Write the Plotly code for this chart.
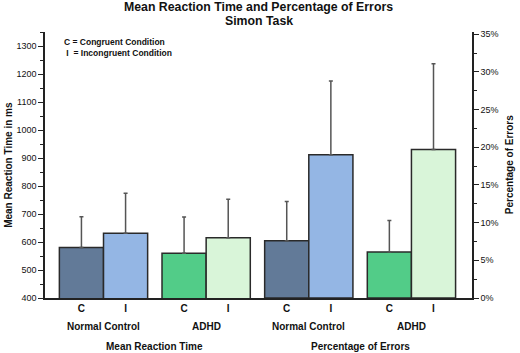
import plotly.graph_objects as go

# ---- data ----
title_lines = ["Mean Reaction Time and Percentage of Errors", "Simon Task"]
panels = ["Mean Reaction Time", "Percentage of Errors"]
groups = ["Normal Control", "ADHD"]
conditions = ["C", "I"]
# order: NC-C, NC-I, ADHD-C, ADHD-I
rt_mean = [580, 631, 560, 615]
rt_sd = [110, 143, 129, 138]
err_mean = [7.6, 19.0, 6.1, 19.7]
err_sd = [5.2, 9.8, 4.2, 11.4]
bar_colors = ["#627a98", "#94b6e4", "#52cc88", "#d9f5d9"]

rt_ticks = list(range(400, 1301, 100))
err_ticks = list(range(0, 36, 5))
err_ticktext = ["%d%%" % v for v in err_ticks]

FONT = "Liberation Sans, Arial, sans-serif"
W = 0.43

fig = go.Figure()
tickvals, ticktext = [], []
for p, (means, sds) in enumerate([(rt_mean, rt_sd), (err_mean, err_sd)]):
    for g in range(len(groups)):
        for c in range(len(conditions)):
            k = g * 2 + c
            xc = (2 * p + g) + (c - 0.5) * W
            tickvals.append(xc)
            ticktext.append("<b>%s</b>" % conditions[c])
            fig.add_trace(go.Bar(
                x=[xc], y=[means[k]], width=[W],
                marker=dict(color=bar_colors[k], line=dict(color="#2a2a2a", width=1.5)),
                error_y=dict(type="data", symmetric=False, array=[sds[k]], arrayminus=[0],
                             color="#555555", thickness=1.5, width=2),
                yaxis="y" if p == 0 else "y2",
                showlegend=False,
                hoverinfo="skip",
            ))

annotations = []
for i, (line, ypos) in enumerate(zip(title_lines, [1.094, 1.040])):
    annotations.append(dict(x=0.5, y=ypos, xref="paper", yref="paper",
                            text="<b>%s</b>" % line, showarrow=False, borderpad=0,
                            font=dict(size=12.3, family=FONT, color="#111"),
                            xanchor="center", yanchor="middle"))
for p in range(2):
    for g in range(len(groups)):
        annotations.append(dict(x=2 * p + g, y=-0.108, xref="x", yref="paper",
                                text="<b>%s</b>" % groups[g], showarrow=False,
                                font=dict(size=10, family=FONT, color="#111"),
                                xanchor="center", yanchor="middle"))
    annotations.append(dict(x=2 * p + 0.5, y=-0.183, xref="x", yref="paper",
                            text="<b>%s</b>" % panels[p], showarrow=False,
                            font=dict(size=10, family=FONT, color="#111"),
                            xanchor="center", yanchor="middle"))
annotations.append(dict(x=0.04, y=0.99, xref="paper", yref="paper",
                        text="<b>C = Congruent Condition<br> I  = Incongruent Condition</b>",
                        showarrow=False, align="left",
                        font=dict(size=8.5, family=FONT, color="#111"),
                        xanchor="left", yanchor="top"))
annotations.append(dict(x=-0.087, y=0.5, xref="paper", yref="paper",
                        text="<b>Mean Reaction Time in ms</b>", textangle=-90, showarrow=False,
                        font=dict(size=10, family=FONT, color="#111"),
                        xanchor="center", yanchor="middle"))
annotations.append(dict(x=1.087, y=0.5, xref="paper", yref="paper",
                        text="<b>Percentage of Errors</b>", textangle=-90, showarrow=False,
                        font=dict(size=10, family=FONT, color="#111"),
                        xanchor="center", yanchor="middle"))

fig.update_layout(
    width=520, height=353,
    margin=dict(l=45, r=48, t=32, b=55),
    paper_bgcolor="white", plot_bgcolor="white",
    barmode="overlay",
    font=dict(family=FONT, color="#111"),
    xaxis=dict(range=[-0.57, 3.59], tickvals=tickvals, ticktext=ticktext,
               showgrid=False, zeroline=False, showline=True, linecolor="#222", linewidth=1.5,
               ticks="", tickfont=dict(size=10, family=FONT, color="#111"), fixedrange=True),
    yaxis=dict(range=[400, 1350], tickvals=rt_ticks, showgrid=False, zeroline=False,
               showline=True, linecolor="#222", linewidth=1.5,
               ticks="outside", ticklen=5, tickwidth=1, tickcolor="#222",
               minor=dict(dtick=50, ticks="outside", ticklen=3, tickcolor="#222"),
               tickfont=dict(size=9, family=FONT, color="#111")),
    yaxis2=dict(range=[0, 35.3], tickvals=err_ticks, ticktext=err_ticktext,
                overlaying="y", side="right",
                showgrid=False, zeroline=False, showline=True, linecolor="#222", linewidth=1.5,
                ticks="outside", ticklen=5, tickwidth=1, tickcolor="#222",
                minor=dict(dtick=2.5, ticks="outside", ticklen=3, tickcolor="#222"),
                tickfont=dict(size=9, family=FONT, color="#111")),
    annotations=annotations,
)

fig.write_html("out.html", config={"displayModeBar": False},
               post_script="document.body.style.margin='0';document.body.style.overflow='hidden';")
